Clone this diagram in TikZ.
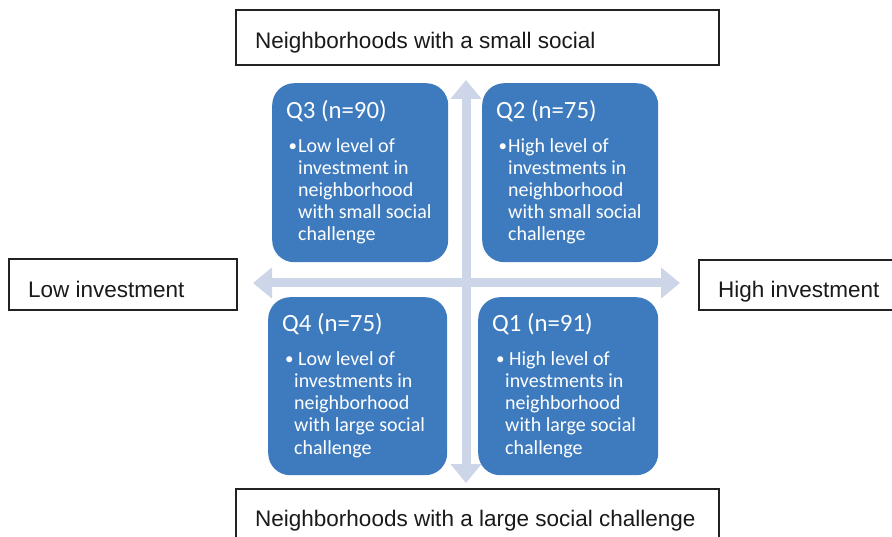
\documentclass[tikz,border=0pt]{standalone}
\usepackage{fontspec}
\setmainfont{Liberation Sans}
\newfontfamily\quadfont{Carlito}
\usetikzlibrary{arrows.meta}

\definecolor{quadblue}{HTML}{3E7BBE}
\definecolor{axiscol}{HTML}{CDD6E8}
\definecolor{framecol}{HTML}{222222}
\definecolor{labelcol}{HTML}{1A1A1A}

\tikzset{
  labelbox/.style={draw=framecol, line width=1.6pt, fill=white, anchor=north west, inner sep=0pt},
  labeltext/.style={anchor=base west, inner sep=0pt, text=labelcol, font=\fontsize{22.5}{26}\selectfont},
  quadbox/.style={fill=quadblue, rounded corners=22pt, anchor=north west, inner sep=0pt,
                  minimum width=176pt, minimum height=179pt},
  quadtitle/.style={anchor=base west, inner sep=0pt, text=white, font=\quadfont\fontsize{24.8}{28}\selectfont},
  quadbody/.style={anchor=north west, inner sep=0pt, align=left, text=white,
                   font=\quadfont\fontsize{20}{22.2}\selectfont},
  bulletmark/.style={anchor=base west, inner sep=0pt, text=white, font=\quadfont\fontsize{17}{22.2}\selectfont},
  axisarrow/.style={draw=axiscol, line width=9pt,
                    {Triangle[length=19pt,width=30pt]}-{Triangle[length=19pt,width=30pt]}}
}

% first-line strut so that the top of a body block sits 16pt above its first baseline
\newcommand{\firststrut}{\rule{0pt}{16pt}}

\begin{document}
\begin{tikzpicture}[x=1pt,y=-1pt]
  \useasboundingbox (0,0) rectangle (892,537);
  \clip (0,0) rectangle (892,537);

  % axes
  \coordinate (vtop) at (466,80);
  \coordinate (vbot) at (466,483);
  \coordinate (hleft) at (253,283);
  \coordinate (hright) at (680,283);
  \draw[axisarrow] (vbot) -- (vtop);
  \draw[axisarrow] (hleft) -- (hright);

  % axis labels
  \node[labelbox, minimum width=483pt, minimum height=55pt] (topbox) at (235,9.5) {};
  \node[labeltext] (toptext) at (255,49) {Neighborhoods with a small social};

  \node[labelbox, minimum width=228pt, minimum height=51pt] (leftbox) at (8,258) {};
  \node[labeltext] (lefttext) at (28,297.5) {Low investment};

  \node[labelbox, minimum width=220pt, minimum height=50pt] (rightbox) at (698,259.5) {};
  \node[labeltext] (righttext) at (718,298) {High investment};

  \node[labelbox, minimum width=483pt, minimum height=70pt] (botbox) at (235,488) {};
  \node[labeltext] (bottext) at (255,526) {Neighborhoods with a large social challenge};

  % quadrants
  \node[quadbox] (q3) at (272,83) {};
  \node[quadtitle] (q3title) at (286,119) {Q3 (n=90)};
  \node[bulletmark] (q3dot) at (288.5,151.5) {•};
  \node[quadbody] (q3body) at (298,136) {\firststrut Low level of\\investment in\\neighborhood\\with small social\\challenge};

  \node[quadbox] (q2) at (482,83) {};
  \node[quadtitle] (q2title) at (496,119) {Q2 (n=75)};
  \node[bulletmark] (q2dot) at (498.5,151.5) {•};
  \node[quadbody] (q2body) at (508,136) {\firststrut High level of\\investments in\\neighborhood\\with small social\\challenge};

  \node[quadbox, minimum width=179pt, minimum height=178pt] (q4) at (268,297) {};
  \node[quadtitle] (q4title) at (282,332) {Q4 (n=75)};
  \node[bulletmark] (q4dot) at (285,364.5) {•};
  \node[quadbody] (q4body) at (294,349) {\firststrut\hspace*{4pt}Low level of\\investments in\\neighborhood\\with large social\\challenge};

  \node[quadbox, minimum width=180pt, minimum height=178pt] (q1) at (478,297) {};
  \node[quadtitle] (q1title) at (492,332) {Q1 (n=91)};
  \node[bulletmark] (q1dot) at (496,364.5) {•};
  \node[quadbody] (q1body) at (505,349) {\firststrut\hspace*{4pt}High level of\\investments in\\neighborhood\\with large social\\challenge};
\end{tikzpicture}
\end{document}
